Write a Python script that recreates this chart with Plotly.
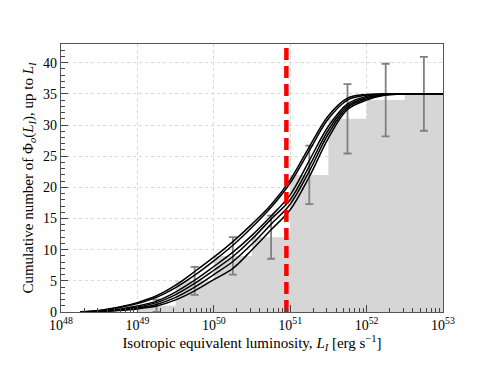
import plotly.graph_objects as go

# log10 luminosity grid for the model curves
log_l = [48.25, 48.5, 48.75, 49.0, 49.25, 49.5, 49.75, 50.0, 50.25, 50.5,
         50.75, 51.0, 51.25, 51.5, 51.75, 52.0, 52.25, 52.5, 52.75, 53.0]
model_a = [0.03, 0.25, 0.75, 1.5, 2.6, 4.3, 6.5, 8.8, 11.3, 14.1,
           17.2, 21.2, 26.5, 31.5, 34.3, 34.9, 35.0, 35.0, 35.0, 35.0]
model_b = [0.03, 0.22, 0.68, 1.35, 2.35, 3.9, 5.9, 8.2, 10.7, 13.6,
           16.8, 20.7, 25.9, 31.0, 34.0, 34.8, 35.0, 35.0, 35.0, 35.0]
model_c = [0.02, 0.15, 0.45, 0.95, 1.75, 3.2, 5.1, 7.3, 9.6, 12.3,
           15.4, 18.8, 24.3, 29.8, 33.4, 34.6, 34.95, 35.0, 35.0, 35.0]
model_d = [0.02, 0.12, 0.38, 0.8, 1.5, 2.8, 4.6, 6.7, 8.9, 11.7,
           14.9, 18.0, 23.4, 29.2, 33.1, 34.4, 34.9, 35.0, 35.0, 35.0]
model_e = [0.01, 0.1, 0.3, 0.65, 1.2, 2.35, 4.0, 6.0, 8.1, 10.9,
           14.1, 17.3, 22.6, 28.6, 32.8, 34.2, 34.85, 35.0, 35.0, 35.0]
model_f = [0.01, 0.08, 0.24, 0.5, 0.95, 1.95, 3.4, 5.2, 7.0, 10.0,
           13.2, 16.4, 21.7, 27.9, 32.5, 34.0, 34.8, 35.0, 35.0, 35.0]

# cumulative histogram (bin edges in log10 L)
hist_edges = [49.0, 49.5, 50.0, 50.5, 51.0, 51.5, 52.0, 52.5, 53.0]
hist_counts = [1, 5, 9, 12, 22, 31, 34, 35]

# error bars at bin centres
err_log_l = [49.25, 49.75, 50.25, 50.75, 51.25, 51.75, 52.25, 52.75]
err_counts = [1, 5, 9, 12, 22, 31, 34, 35]
err_size = [1.0, 2.24, 3.0, 3.46, 4.69, 5.57, 5.83, 5.92]

line_log_l = 50.95

FONT = "Liberation Serif"

fig = go.Figure()

# Histogram as a filled step
fig.add_trace(go.Scatter(
    x=[10.0 ** e for e in hist_edges],
    y=hist_counts + [hist_counts[-1]],
    mode='lines',
    line=dict(shape='hv', width=0, color='#d6d6d6'),
    fill='tozeroy',
    fillcolor='#d6d6d6',
    hoverinfo='skip',
))

# Error bars
fig.add_trace(go.Scatter(
    x=[10.0 ** v for v in err_log_l],
    y=err_counts,
    mode='markers',
    marker=dict(size=0.1, color='rgba(0,0,0,0)'),
    error_y=dict(type='data', array=err_size, color='#808080',
                 thickness=1.8, width=4),
))

# Model curves
for ys in [model_a, model_b, model_c, model_d, model_e, model_f]:
    fig.add_trace(go.Scatter(
        x=[10.0 ** v for v in log_l],
        y=ys,
        mode='lines',
        line=dict(color='black', width=1.5, shape='spline', smoothing=1.0),
    ))

# Red dashed line
fig.add_trace(go.Scatter(
    x=[10.0 ** line_log_l, 10.0 ** line_log_l],
    y=[0, 43],
    mode='lines',
    line=dict(color='#ff0000', width=4.5, dash='12px,6px'),
))

major_x = [10.0 ** n for n in range(48, 54)]
major_text = [f'10<sup>{n}</sup>' for n in range(48, 54)]
minor_x = [k * 10.0 ** n for n in range(48, 53) for k in range(2, 10)]

# the page adds an 8px body margin, so the figure is a bit smaller
fig.update_layout(
    width=482,
    height=360,
    margin=dict(l=53, r=47, t=36, b=56),
    paper_bgcolor='white',
    plot_bgcolor='white',
    showlegend=False,
    font=dict(family=FONT, size=14, color='black'),
)
fig.update_xaxes(
    type='log',
    range=[48, 53],
    tickmode='array',
    tickvals=major_x,
    ticktext=major_text,
    tickfont=dict(family=FONT, size=14),
    ticks='inside',
    ticklen=7,
    tickcolor='#444',
    showgrid=True,
    gridcolor='#d8d8d8',
    griddash='dot',
    gridwidth=1,
    showline=True,
    linecolor='#555',
    linewidth=1.2,
    mirror=True,
    zeroline=False,
    minor=dict(tickmode='array', tickvals=minor_x, ticks='inside',
               ticklen=4, tickcolor='#444', showgrid=False),
    title=dict(text='Isotropic equivalent luminosity, <i>L<sub>I</sub></i> [erg s<sup>\u22121</sup>]',
               font=dict(family=FONT, size=15), standoff=5),
)
fig.update_yaxes(
    range=[0, 43],
    tickmode='linear',
    tick0=0,
    dtick=5,
    tickfont=dict(family=FONT, size=14),
    ticks='inside',
    ticklen=7,
    tickcolor='#444',
    showgrid=True,
    gridcolor='#d8d8d8',
    griddash='dot',
    gridwidth=1,
    showline=True,
    linecolor='#555',
    linewidth=1.2,
    mirror=True,
    zeroline=False,
    minor=dict(dtick=1, ticks='inside', ticklen=4, tickcolor='#444',
               showgrid=False),
    title=dict(text='Cumulative number of \u03a6<sub><i>o</i></sub>(<i>L<sub>I</sub></i>), up to <i>L<sub>I</sub></i>',
               font=dict(family=FONT, size=15), standoff=5),
)

fig.write_html("out.html")
